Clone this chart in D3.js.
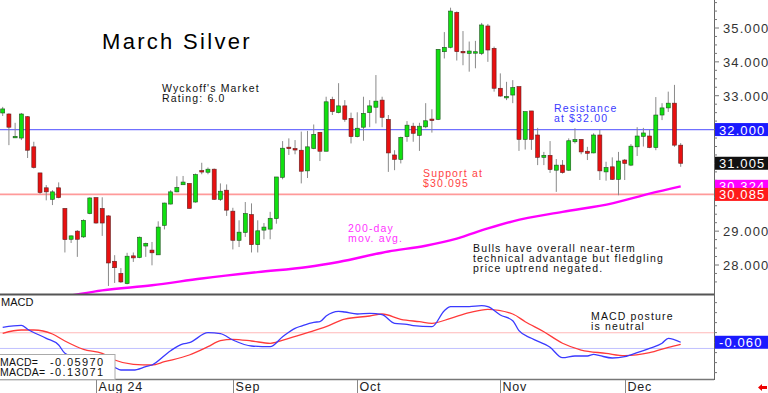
<!DOCTYPE html>
<html>
<head>
<meta charset="utf-8">
<script src="https://cdn.jsdelivr.net/npm/d3@7"></script>
<style>
  body { margin: 0; background: #fff; }
  svg text { font-family: "Liberation Sans", Arial, sans-serif; }
</style>
</head>
<body>
<div id="chart"></div>
<script>
// daily candles, oldest first: open, high, low, close
var opens  = [32.49,32.46,31.78,31.75,32.38,31.49,30.72,30.28,29.94,30.28,29.67,28.76,29.00,28.83,29.52,29.99,29.67,29.45,28.11,27.75,
              27.45,28.27,28.22,28.56,28.44,28.30,29.17,29.80,30.16,30.37,30.41,29.86,30.79,30.74,30.83,29.94,30.21,29.59,28.73,28.96,
              29.49,28.60,29.03,29.06,29.37,30.59,31.48,31.44,31.39,30.78,31.44,31.92,31.36,32.89,32.50,32.70,32.33,31.79,32.07,32.50,
              32.66,32.87,32.30,31.25,31.12,31.79,32.10,31.83,32.08,32.31,32.30,34.30,34.43,35.46,34.31,34.25,34.28,34.25,35.06,34.40,
              33.22,32.96,33.02,33.27,31.71,32.55,31.84,31.18,31.24,30.80,30.95,30.80,31.64,31.71,31.36,31.31,31.84,30.75,30.90,30.53,
              31.10,30.95,31.49,31.80,31.81,31.47,32.43,32.64,32.78,31.54];
var highs  = [32.67,32.48,32.20,32.49,32.40,31.64,30.72,30.36,30.21,30.44,29.68,28.87,29.03,29.35,30.00,30.00,30.00,29.47,28.29,27.91,
              28.36,28.37,28.84,28.66,28.68,29.29,29.84,30.21,30.62,30.63,30.41,30.70,31.02,30.88,30.85,30.41,30.38,29.69,29.32,29.86,
              29.82,29.32,29.24,29.57,30.60,31.66,31.74,31.69,31.94,31.96,32.15,31.92,32.97,32.97,33.37,32.87,32.50,32.51,32.97,32.87,
              33.61,32.97,32.43,31.39,31.79,32.25,32.20,32.20,32.78,32.60,34.37,34.88,35.60,35.49,34.91,34.60,34.62,35.15,35.12,34.45,
              33.66,33.41,33.46,33.27,32.53,32.55,32.05,31.34,31.66,31.13,31.10,31.74,32.04,31.71,31.49,31.89,31.99,31.05,31.18,31.34,
              31.13,31.57,32.07,32.05,32.00,32.96,32.78,33.12,33.32,31.60];
var lows   = [32.40,31.54,31.75,31.69,31.16,30.85,30.10,29.91,29.77,29.97,28.37,28.65,28.24,28.80,29.50,29.22,28.86,27.38,27.47,27.47,
              27.43,28.09,28.20,28.24,27.99,28.30,29.05,29.79,30.15,30.37,29.67,29.84,30.68,30.68,29.92,29.89,29.45,28.46,28.53,28.83,
              28.37,28.37,28.76,28.76,29.22,30.53,31.25,31.27,30.41,30.57,31.42,31.07,31.36,32.43,32.48,32.23,31.59,31.77,31.67,32.07,
              32.18,32.07,30.75,30.80,31.00,31.64,31.64,31.37,32.04,31.91,32.28,34.10,34.40,34.04,33.90,33.71,33.81,34.20,34.00,33.12,
              32.97,32.87,32.78,31.37,31.41,31.40,30.95,30.95,30.72,30.16,30.70,30.78,31.59,31.27,31.10,31.30,30.51,30.49,30.51,30.06,
              30.51,30.92,31.22,31.50,31.45,31.39,32.28,32.52,31.49,30.90];
var closes = [32.61,32.07,31.80,32.46,31.39,30.88,30.14,30.16,30.16,29.99,28.75,28.86,28.76,29.32,29.98,29.24,29.24,28.06,27.92,27.50,
              28.26,28.21,28.82,28.64,28.36,29.12,29.83,30.16,30.29,30.45,29.67,30.67,30.77,30.83,29.94,30.18,29.62,28.73,28.97,29.52,
              28.60,29.01,29.12,29.38,30.60,31.45,31.44,31.41,30.77,31.49,31.86,31.36,32.82,32.53,32.70,32.30,31.79,32.04,32.48,32.70,
              32.84,32.36,31.31,31.12,31.77,32.13,31.89,32.10,32.26,32.29,34.37,34.43,35.50,34.30,34.29,34.32,34.30,35.09,34.35,33.22,
              32.99,32.98,33.24,31.71,32.53,31.71,31.18,31.24,30.82,30.95,30.73,31.67,31.71,31.34,31.30,31.84,30.78,30.88,30.53,31.07,
              31.00,31.51,31.81,31.90,31.47,32.43,32.64,32.78,31.54,31.005];

// 200-day moving average, read at [candle index, value]
var ma200 = [[0,26.75],[11,27.10],[16,27.25],[24,27.40],[32,27.60],[41,27.79],[49,27.94],[54,28.09],[62,28.40],[68,28.57],
             [73,28.78],[78,29.08],[82,29.29],[90,29.57],[98,29.82],[104,30.11],[109,30.324]];

// MACD and its average, [candle index, value]
var macd = [[0,0.475],[3,0.546],[4,0.404],[7,0.082],[9,-0.157],[10,-0.454],[14,-0.76],[18,-0.954],[19,-1.05],[21,-1.05],
            [23,-0.932],[24,-0.871],[27,-0.36],[29,-0.121],[30,-0.075],[33,0.282],[35,0.246],[37,0.021],[40,-0.193],[43,-0.218],
            [45,0.139],[47,0.439],[48,0.521],[50,0.654],[51,0.675],[52,0.879],[54,1.046],[55,1.021],[57,0.95],[59,0.975],
            [61,0.925],[63,0.618],[65,0.582],[66,0.532],[69,0.496],[71,1.068],[72,1.211],[75,1.211],[77,1.246],[78,1.211],
            [80,0.914],[82,0.711],[83,0.354],[85,0.082],[88,-0.239],[90,-0.611],[92,-0.55],[94,-0.55],[95,-0.489],[96,-0.539],
            [98,-0.621],[100,-0.575],[102,-0.432],[104,-0.275],[106,-0.096],[107,0.082],[109,-0.0597]];
var macda = [[0,0.261],[3,0.379],[5,0.379],[8,0.236],[10,-0.014],[13,-0.311],[16,-0.454],[18,-0.693],[21,-0.846],[24,-0.871],
             [26,-0.754],[30,-0.514],[33,-0.218],[35,-0.004],[37,0.046],[40,-0.014],[43,-0.096],[46,0.082],[49,0.282],[52,0.496],
             [55,0.771],[59,0.879],[61,0.95],[64,0.761],[67,0.675],[69,0.618],[72,0.796],[75,0.996],[78,1.118],[82,0.95],
             [84,0.675],[87,0.318],[90,-0.096],[93,-0.336],[97,-0.454],[100,-0.539],[104,-0.432],[107,-0.239],[109,-0.13071]];

var monthLabels = ["Aug 24","Sep","Oct","Nov","Dec"];
var monthIdx = [15,37,57,80,100];
var priceTicks = [28,29,33,34,35];
var resistance = 32.00, support = 30.085;
var macdGuides = [0.28,-0.28];

var W = 768, H = 393, axisX = 714;

var svg = d3.select("#chart").append("svg").attr("width", W).attr("height", H);

var x = d3.scaleLinear().domain([0,109]).range([2.7,680.7]);
var y = d3.scaleLinear().domain([28,35]).range([265,28]);
var ym = d3.scaleLinear().domain([-1,1]).range([368.6,312.6]);

svg.append("defs").append("clipPath").attr("id","mainClip")
  .append("rect").attr("x",0).attr("y",0).attr("width",axisX).attr("height",294);
svg.select("defs").append("clipPath").attr("id","macdClip")
  .append("rect").attr("x",0).attr("y",296).attr("width",axisX).attr("height",83);

var main = svg.append("g").attr("clip-path","url(#mainClip)");
var lower = svg.append("g").attr("clip-path","url(#macdClip)");

// support / resistance
main.append("line").attr("x1",0).attr("x2",axisX).attr("y1",y(resistance)).attr("y2",y(resistance))
  .attr("stroke","#7070ff").attr("stroke-width",1.2);
main.append("line").attr("x1",0).attr("x2",axisX).attr("y1",y(support)).attr("y2",y(support))
  .attr("stroke","#ff9a9a").attr("stroke-width",1.6);

// moving average
main.append("path").datum(ma200)
  .attr("d", d3.line().x(function(d){return x(d[0]);}).y(function(d){return y(d[1]);}).curve(d3.curveMonotoneX))
  .attr("fill","none").attr("stroke","#ff00ff").attr("stroke-width",2.4);

// candles
var candles = main.selectAll("g.candle").data(d3.range(opens.length)).enter().append("g").attr("class","candle");
candles.append("line")
  .attr("x1", function(i){return x(i);}).attr("x2", function(i){return x(i);})
  .attr("y1", function(i){return y(highs[i]);}).attr("y2", function(i){return y(lows[i]);})
  .attr("stroke","#8a8a8a").attr("stroke-width",1);
candles.append("rect")
  .attr("x", function(i){return x(i)-2;}).attr("width",4)
  .attr("y", function(i){return y(Math.max(opens[i],closes[i]));})
  .attr("height", function(i){return Math.max(1.5, Math.abs(y(opens[i])-y(closes[i])));})
  .attr("fill", function(i){return closes[i] >= opens[i] ? "#10e010" : "#e81010";})
  .attr("stroke", function(i){return closes[i] >= opens[i] ? "#205020" : "#602020";})
  .attr("stroke-width",0.6);

// MACD panel
macdGuides.forEach(function(v, k){
  lower.append("line").attr("x1",0).attr("x2",axisX).attr("y1",ym(v)).attr("y2",ym(v))
    .attr("stroke", k==0 ? "#ffb8b8" : "#c0c0ff").attr("stroke-width",1);
});
var mline = d3.line().x(function(d){return x(d[0]);}).y(function(d){return ym(d[1]);}).curve(d3.curveMonotoneX);
lower.append("path").datum(macda).attr("d",mline).attr("fill","none").attr("stroke","#ff3a3a").attr("stroke-width",1.3);
lower.append("path").datum(macd).attr("d",mline).attr("fill","none").attr("stroke","#3a3aff").attr("stroke-width",1.3);

// frames
svg.append("line").attr("x1",0).attr("x2",axisX).attr("y1",294.5).attr("y2",294.5).attr("stroke","#555").attr("stroke-width",2);
svg.append("line").attr("x1",0).attr("x2",axisX).attr("y1",379.5).attr("y2",379.5).attr("stroke","#777").attr("stroke-width",1.5);
svg.append("line").attr("x1",axisX+0.5).attr("x2",axisX+0.5).attr("y1",0).attr("y2",380).attr("stroke","#666").attr("stroke-width",1);

// price axis ticks
d3.range(27.5, 36.01, 0.25).forEach(function(p){
  var major = Math.abs(p - Math.round(p)) < 0.01;
  svg.append("line").attr("x1",axisX).attr("x2",axisX + (major ? 5 : 3))
    .attr("y1",y(p)).attr("y2",y(p)).attr("stroke","#777");
});
d3.range(-1.5, 1.6, 0.357).forEach(function(v){
  if (ym(v) < 297 || ym(v) > 378) return;
  svg.append("line").attr("x1",axisX).attr("x2",axisX+3).attr("y1",ym(v)).attr("y2",ym(v)).attr("stroke","#777");
});
svg.selectAll("text.ptick").data(priceTicks).enter().append("text").attr("class","ptick")
  .attr("x",723).attr("y", function(d){return y(d)+5;})
  .attr("font-size",13).attr("letter-spacing",1.1).attr("fill","#333")
  .text(function(d){return d3.format(".3f")(d);});

// value boxes at the right
function valueBox(yy, bg, label){
  svg.append("rect").attr("x",axisX+1).attr("y",yy-6.5).attr("width",W-axisX-1).attr("height",13).attr("fill",bg);
  svg.append("text").attr("x",719).attr("y",yy+5).attr("font-size",13).attr("letter-spacing",1.1)
    .attr("fill","#fff").text(label);
}
valueBox(y(resistance), "#1a1aff", "32.000");
valueBox(y(closes[closes.length-1]), "#111", "31.005");
valueBox(y(ma200[ma200.length-1][1]), "#ff00ff", "30.324");
valueBox(y(support), "#ff1a1a", "30.085");
svg.append("rect").attr("x",axisX+1).attr("y",ym(-0.13071)-1).attr("width",W-axisX-1).attr("height",4).attr("fill","#ff1a1a");
valueBox(ym(-0.0597), "#1a1aff", "-0.060");

// month axis
monthIdx.forEach(function(m, k){
  var xx = Math.round(x(m)) + 0.5;
  svg.append("line").attr("x1",xx).attr("x2",xx).attr("y1",380).attr("y2",H).attr("stroke","#888");
  svg.append("text").attr("x",xx+2).attr("y",391).attr("font-size",12.5).attr("letter-spacing",0.8)
    .attr("fill","#222").text(monthLabels[k]);
});
svg.append("path").attr("d","M758,387.5 L762,384 L762,386 L767,386 L767,389 L762,389 L762,391 Z").attr("fill","#e00");

// annotations
function note(x0, y0, lines, color, size, spacing){
  lines.forEach(function(t, k){
    svg.append("text").attr("x",x0).attr("y",y0 + k*10.3).attr("font-size",size || 10.5)
      .attr("letter-spacing", spacing == null ? 1.15 : spacing).attr("fill",color).text(t);
  });
}
svg.append("text").attr("x",102).attr("y",49).attr("font-size",22).attr("letter-spacing",2.3).attr("fill","#000").text("March Silver");
note(162, 92, ["Wyckoff's Market","Rating: 6.0"], "#111");
note(554, 111.5, ["Resistance","at $32.00"], "#3a3aff");
note(423, 177, ["Support at","$30.095"], "#ff4444");
note(348, 232, ["200-day","mov. avg."], "#ff33ff");
note(473, 251.5, ["Bulls have overall near-term","technical advantage but fledgling","price uptrend negated."], "#111");
note(591, 319.5, ["MACD posture","is neutral"], "#111");
note(1, 306, ["MACD"], "#111", 11, 0);

// readout box
svg.append("rect").attr("x",-1).attr("y",354.5).attr("width",116).attr("height",25).attr("fill","#fff").attr("stroke","#aaa");
note(0, 366, ["MACD=","MACDA="], "#111", 10.5, 0.2);
note(50, 366, ["-0.05970","-0.13071"], "#111", 11, 1.4);
</script>
</body>
</html>
